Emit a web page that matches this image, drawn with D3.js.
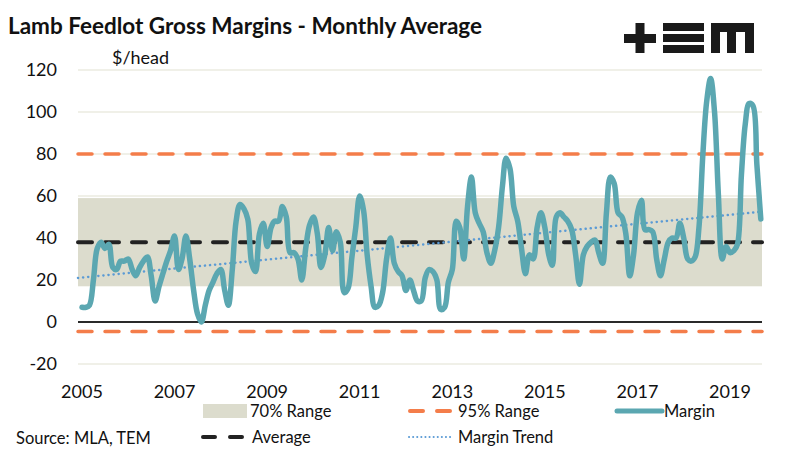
<!DOCTYPE html>
<html>
<head>
<meta charset="utf-8">
<script src="https://cdn.jsdelivr.net/npm/d3@7"></script>
<style>
    body { margin: 0; background: #fff; }
    svg { display: block; font-family: Lato, "Open Sans", sans-serif; }
</style>
</head>
<body>
<div id="chart"></div>
<script>
// Monthly average margin ($/head), Jan 2005 onwards
const startYear = 2005;
const margin = [
    7, 7, 8, 20, 35, 38, 35, 37, 26, 25, 29, 29,
    30, 25, 22, 26, 29, 31, 22, 10, 17, 23, 29, 34,
    41, 25, 30, 41, 30, 15, 4, 0, 8, 15, 19, 23,
    25, 15, 8, 25, 48, 56, 54, 49, 28, 24, 42, 47,
    36, 45, 48, 48, 55, 50, 33, 33, 30, 20, 35, 46,
    50, 42, 26, 32, 45, 34, 43, 38, 14, 16, 31, 45,
    60, 53, 32, 17, 7, 8, 14, 30, 40, 28, 24, 22,
    15, 20, 15, 10, 10, 21, 25, 24, 20, 6, 7, 19,
    25, 48, 45, 30, 55, 69, 52, 47, 43, 33, 28, 34,
    45, 65, 78, 73, 55, 48, 35, 23, 32, 30, 45, 52,
    45, 32, 27, 50, 52, 50, 48, 44, 32, 18, 32, 36,
    38, 39, 33, 28, 52, 69, 66, 52, 50, 42, 22, 32,
    52, 58, 44, 44, 43, 30, 22, 30, 38, 40, 40, 47,
    40, 30, 29, 31, 45, 80, 105, 116, 100, 61, 30, 36,
    33, 34, 37, 70, 94, 104, 103, 75, 49
];
const yTicks = [-20, 0, 20, 40, 60, 80, 100, 120];
const xTickYears = [2005, 2007, 2009, 2011, 2013, 2015, 2017, 2019];
const range70 = [17, 59];
const range95 = [-4.5, 80];
const average = 38;
const trendEnds = [21, 52.5];

const W = 793, H = 454;
const plot = { left: 78, right: 762 };
const colors = {
    band: "#dcdccd",
    grid: "#ebebe0",
    orange: "#f47d4a",
    avg: "#222222",
    line: "#5ba7b1",
    trend: "#5b9bd5"
};

const svg = d3.select("#chart").append("svg")
    .attr("width", W)
    .attr("height", H);

const monthDate = i => new Date(startYear, i, 1);
const data = margin.map((v, i) => ({ date: monthDate(i), value: v }));

const x = d3.scaleTime()
    .domain([new Date(2005, 0, 1), new Date(2019, 0, 1)])
    .range([82, 730]);
const y = d3.scaleLinear()
    .domain([-20, 120])
    .range([364, 70]);

// grid lines
svg.append("g")
    .selectAll("line")
    .data(yTicks)
    .join("line")
    .attr("x1", plot.left)
    .attr("x2", plot.right)
    .attr("y1", d => y(d))
    .attr("y2", d => y(d))
    .attr("stroke", colors.grid)
    .attr("stroke-width", 1.5);

// 70% range band
svg.append("rect")
    .attr("x", plot.left)
    .attr("width", plot.right - plot.left)
    .attr("y", y(range70[1]))
    .attr("height", y(range70[0]) - y(range70[1]))
    .attr("fill", colors.band);

// zero line
svg.append("line")
    .attr("x1", plot.left).attr("x2", plot.right)
    .attr("y1", y(0)).attr("y2", y(0))
    .attr("stroke", "#2a2a2a")
    .attr("stroke-width", 2);

// 95% range lines
svg.append("g")
    .selectAll("line")
    .data(range95)
    .join("line")
    .attr("x1", plot.left)
    .attr("x2", plot.right)
    .attr("y1", d => y(d))
    .attr("y2", d => y(d))
    .attr("stroke", colors.orange)
    .attr("stroke-width", 3.5)
    .attr("stroke-dasharray", "14,13")
    .attr("stroke-linecap", "round");

// average
svg.append("line")
    .attr("x1", plot.left).attr("x2", plot.right)
    .attr("y1", y(average)).attr("y2", y(average))
    .attr("stroke", colors.avg)
    .attr("stroke-width", 4)
    .attr("stroke-dasharray", "14,13")
    .attr("stroke-linecap", "round");

// trend
svg.append("line")
    .attr("x1", plot.left).attr("x2", plot.right)
    .attr("y1", y(trendEnds[0])).attr("y2", y(trendEnds[1]))
    .attr("stroke", colors.trend)
    .attr("stroke-width", 2.5)
    .attr("stroke-dasharray", "0.1,5")
    .attr("stroke-linecap", "round");

// margin line
const line = d3.line()
    .x(d => x(d.date))
    .y(d => y(d.value))
    .curve(d3.curveCatmullRom.alpha(0.5));
svg.append("path")
    .datum(data)
    .attr("fill", "none")
    .attr("stroke", colors.line)
    .attr("stroke-width", 5.5)
    .attr("stroke-linejoin", "round")
    .attr("stroke-linecap", "round")
    .attr("d", line);

// axes labels
svg.append("g")
    .selectAll("text")
    .data(yTicks)
    .join("text")
    .attr("x", 57)
    .attr("y", d => y(d) + 6)
    .attr("text-anchor", "end")
    .attr("font-size", 18)
    .attr("fill", "#111")
    .text(d => d);

svg.append("g")
    .selectAll("text")
    .data(xTickYears)
    .join("text")
    .attr("x", d => x(new Date(d, 0, 1)))
    .attr("y", 398)
    .attr("text-anchor", "middle")
    .attr("font-size", 18)
    .attr("fill", "#111")
    .text(d => d);

svg.append("text")
    .attr("x", 112).attr("y", 64)
    .attr("font-size", 18)
    .attr("fill", "#111")
    .text("$/head");

// title
svg.append("text")
    .attr("x", 8).attr("y", 34)
    .attr("font-size", 22.5)
    .attr("font-weight", "bold")
    .attr("fill", "#111")
    .text("Lamb Feedlot Gross Margins - Monthly Average");

// logo
const logo = svg.append("g").attr("fill", "#1a1a1a");
logo.append("rect").attr("x", 624).attr("y", 34).attr("width", 32).attr("height", 9);
logo.append("rect").attr("x", 635.5).attr("y", 23).attr("width", 9).attr("height", 30);
[23, 34, 45].forEach(t => logo.append("rect").attr("x", 663).attr("y", t).attr("width", 41).attr("height", 8));
logo.append("rect").attr("x", 711).attr("y", 23).attr("width", 43).attr("height", 9);
[711, 727, 745].forEach(l => logo.append("rect").attr("x", l).attr("y", 23).attr("width", 9).attr("height", 30));

// legend
const lg = svg.append("g").attr("font-size", 16.5).attr("fill", "#111");
lg.append("rect").attr("x", 203).attr("y", 404).attr("width", 44).attr("height", 14).attr("fill", colors.band);
lg.append("text").attr("x", 250).attr("y", 417).text("70% Range");
lg.append("line").attr("x1", 410).attr("x2", 450).attr("y1", 411).attr("y2", 411)
    .attr("stroke", colors.orange).attr("stroke-width", 4)
    .attr("stroke-dasharray", "13,14").attr("stroke-linecap", "round");
lg.append("text").attr("x", 458).attr("y", 417).text("95% Range");
lg.append("line").attr("x1", 617).attr("x2", 662).attr("y1", 411).attr("y2", 411)
    .attr("stroke", colors.line).attr("stroke-width", 5).attr("stroke-linecap", "round");
lg.append("text").attr("x", 664).attr("y", 417).text("Margin");

lg.append("text").attr("x", 16).attr("y", 444).text("Source: MLA, TEM");
lg.append("line").attr("x1", 203).attr("x2", 243).attr("y1", 437).attr("y2", 437)
    .attr("stroke", colors.avg).attr("stroke-width", 4)
    .attr("stroke-dasharray", "12,15").attr("stroke-linecap", "round");
lg.append("text").attr("x", 252).attr("y", 443).text("Average");
lg.append("line").attr("x1", 409).attr("x2", 452).attr("y1", 437).attr("y2", 437)
    .attr("stroke", colors.trend).attr("stroke-width", 2)
    .attr("stroke-dasharray", "0.1,4").attr("stroke-linecap", "round");
lg.append("text").attr("x", 458).attr("y", 443).text("Margin Trend");
</script>
</body>
</html>
